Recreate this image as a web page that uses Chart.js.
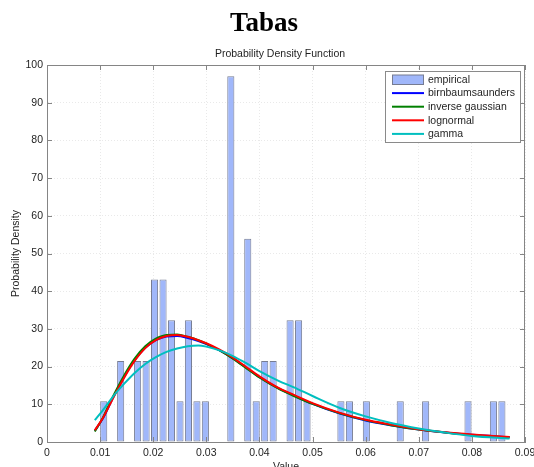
<!DOCTYPE html>
<html>
<head>
<meta charset="utf-8">
<script src="https://cdn.jsdelivr.net/npm/chart.js@4/dist/chart.umd.min.js"></script>
<style>
  html, body { margin: 0; padding: 0; background: #ffffff; }
  #wrap { width: 534px; height: 467px; }
</style>
</head>
<body>
<div id="wrap"><canvas id="pdf" width="534" height="467"></canvas></div>
<script>
// Histogram bins (centres) and their empirical density
const binCenters = [
  0.01068, 0.01228, 0.01387, 0.01547, 0.01706, 0.01866, 0.02025, 0.02185,
  0.02344, 0.02504, 0.02663, 0.02823, 0.02982, 0.03142, 0.03301, 0.03461,
  0.03620, 0.03780, 0.03939, 0.04099, 0.04258, 0.04418, 0.04577, 0.04737,
  0.04896, 0.05056, 0.05215, 0.05375, 0.05534, 0.05694, 0.05853, 0.06013,
  0.06172, 0.06332, 0.06491, 0.06651, 0.06810, 0.06970, 0.07129, 0.07289,
  0.07448, 0.07608, 0.07767, 0.07927, 0.08086, 0.08246, 0.08405, 0.08565
];
const empiricalDensity = [
  10.8, 0, 21.5, 0, 21.5, 21.5, 43.1, 43.1,
  32.3, 10.8, 32.3, 10.8, 10.8, 0, 0, 97.0,
  0, 53.9, 10.8, 21.5, 21.5, 0, 32.3, 32.3,
  10.8, 0, 0, 0, 10.8, 10.8, 0, 10.8,
  0, 0, 0, 10.8, 0, 0, 10.8, 0,
  0, 0, 0, 10.8, 0, 0, 10.8, 10.8
];

// Fitted density curves sampled along the value axis
const curveX = [
  0.009, 0.0105, 0.0125, 0.0145, 0.0165, 0.0185, 0.0205, 0.0225, 0.0245,
  0.0265, 0.0285, 0.030, 0.0325, 0.035, 0.0375, 0.040, 0.0435, 0.0465,
  0.050, 0.055, 0.060, 0.065, 0.070, 0.075, 0.080, 0.0871
];
const birnbaumSaunders = [
  3.0, 6.2, 11.9, 17.2, 21.7, 25.0, 27.0, 28.0, 28.1,
  27.6, 26.8, 26.0, 24.3, 22.2, 19.7, 17.2, 14.3, 12.3,
  10.1, 7.6, 5.7, 4.4, 3.3, 2.5, 1.9, 1.3
];
const inverseGaussian = [
  2.8, 6.4, 12.3, 17.6, 22.1, 25.4, 27.4, 28.4, 28.5,
  27.9, 27.0, 26.1, 24.3, 22.1, 19.6, 17.1, 14.2, 12.2,
  10.1, 7.7, 5.8, 4.4, 3.3, 2.5, 1.8, 1.2
];
const lognormal = [
  3.1, 6.3, 11.8, 17.0, 21.5, 24.9, 27.0, 28.1, 28.4,
  27.9, 27.0, 26.2, 24.5, 22.4, 19.9, 17.4, 14.4, 12.5,
  10.3, 7.8, 5.9, 4.6, 3.4, 2.6, 2.0, 1.3
];
const gammaFit = [
  5.8, 8.4, 12.2, 15.4, 18.3, 20.7, 22.5, 23.9, 24.8,
  25.4, 25.6, 25.3, 24.3, 22.8, 20.9, 18.8, 16.3, 14.5,
  12.2, 9.1, 6.8, 5.0, 3.6, 2.5, 1.6, 0.9
];

// Tick labels
const xTickLabels = ['0', '0.01', '0.02', '0.03', '0.04', '0.05', '0.06', '0.07', '0.08', '0.09'];
const yTickLabels = ['0', '10', '20', '30', '40', '50', '60', '70', '80', '90', '100'];

const SANS = '"Liberation Sans", Arial, sans-serif';
const TEXT = '#1e1e1e';
const AXIS = '#858585';
const GRID = 'rgba(0,0,0,0.085)';

const toPoints = (xs, ys) => xs.map((x, i) => ({ x: x, y: ys[i] }));

const curve = (label, values, color, order) => ({
  type: 'line',
  label: label,
  data: toPoints(curveX, values),
  borderColor: color,
  backgroundColor: color,
  borderWidth: 2,
  pointRadius: 0,
  cubicInterpolationMode: 'monotone',
  fill: false,
  order: order
});

// Frame, inward ticks, captions and the boxed legend
const framePlugin = {
  id: 'frame',
  afterDatasetsDraw(chart) {
    const { ctx, chartArea: a, scales } = chart;
    ctx.save();
    ctx.strokeStyle = AXIS;
    ctx.lineWidth = 1;
    ctx.beginPath();
    ctx.moveTo(a.left, a.top + 0.5); ctx.lineTo(a.right, a.top + 0.5);
    ctx.moveTo(a.right - 0.5, a.top); ctx.lineTo(a.right - 0.5, a.bottom);
    const tl = 5;
    scales.x.ticks.forEach(t => {
      const px = Math.round(scales.x.getPixelForValue(t.value)) + 0.5;
      ctx.moveTo(px, a.bottom); ctx.lineTo(px, a.bottom - tl);
      ctx.moveTo(px, a.top); ctx.lineTo(px, a.top + tl);
    });
    scales.y.ticks.forEach(t => {
      const py = Math.round(scales.y.getPixelForValue(t.value)) + 0.5;
      ctx.moveTo(a.left, py); ctx.lineTo(a.left + tl, py);
      ctx.moveTo(a.right, py); ctx.lineTo(a.right - tl, py);
    });
    ctx.stroke();
    ctx.restore();
  },
  afterDraw(chart) {
    const { ctx, chartArea: a } = chart;
    ctx.save();
    ctx.fillStyle = '#000';
    ctx.textAlign = 'center';
    ctx.textBaseline = 'alphabetic';
    ctx.font = 'bold 27px "Liberation Serif", "Times New Roman", serif';
    ctx.fillText('Tabas', 264, 31);
    ctx.fillStyle = TEXT;
    ctx.font = '10.5px ' + SANS;
    ctx.fillText('Probability Density Function', 280, 57);
    ctx.fillText('Value', (a.left + a.right) / 2, 469.5);
    ctx.save();
    ctx.translate(16, (a.top + a.bottom) / 2);
    ctx.rotate(-Math.PI / 2);
    ctx.textBaseline = 'middle';
    ctx.fillText('Probability Density', 0, 0);
    ctx.restore();

    // legend box
    const lx = 385, ly = 71, lw = 135, lh = 71;
    ctx.fillStyle = '#ffffff';
    ctx.fillRect(lx, ly, lw, lh);
    ctx.strokeStyle = '#8a8a8a';
    ctx.lineWidth = 1;
    ctx.strokeRect(lx + 0.5, ly + 0.5, lw, lh);
    ctx.font = '10.5px ' + SANS;
    ctx.textAlign = 'left';
    ctx.textBaseline = 'middle';
    const rowH = 13.6;
    chart.data.datasets.forEach((ds, i) => {
      const cy = ly + 8.5 + i * rowH;
      if (ds.type === 'line') {
        ctx.strokeStyle = ds.borderColor;
        ctx.lineWidth = 2;
        ctx.beginPath();
        ctx.moveTo(392, cy); ctx.lineTo(424, cy);
        ctx.stroke();
      } else {
        ctx.fillStyle = ds.backgroundColor;
        ctx.fillRect(392, cy - 4.5, 32, 9.5);
        ctx.strokeStyle = ds.borderColor;
        ctx.lineWidth = 1;
        ctx.strokeRect(392.5, cy - 4.5, 31, 9.5);
      }
      ctx.fillStyle = TEXT;
      ctx.fillText(ds.label, 428, cy + 0.5);
    });
    ctx.restore();
  }
};

new Chart(document.getElementById('pdf'), {
  type: 'bar',
  data: {
    datasets: [
      {
        type: 'bar',
        label: 'empirical',
        data: toPoints(binCenters, empiricalDensity),
        backgroundColor: 'rgb(160,183,250)',
        borderColor: 'rgb(118,124,146)',
        borderWidth: 1,
        borderSkipped: false,
        categoryPercentage: 0.84,
        barPercentage: 1.0,
        order: 10
      },
      curve('birnbaumsaunders', birnbaumSaunders, 'rgb(0,0,255)', 4),
      curve('inverse gaussian', inverseGaussian, 'rgb(0,128,0)', 3),
      curve('lognormal', lognormal, 'rgb(255,0,0)', 2),
      curve('gamma', gammaFit, 'rgb(0,191,191)', 1)
    ]
  },
  options: {
    responsive: false,
    animation: false,
    devicePixelRatio: 1,
    layout: { padding: { left: 0, right: 9, top: 65, bottom: 0 } },
    plugins: {
      legend: { display: false },
      title: { display: false },
      tooltip: { enabled: false }
    },
    scales: {
      x: {
        type: 'linear',
        min: 0,
        max: 0.09,
        offset: false,
        grid: { offset: false, color: GRID, drawTicks: false },
        border: { display: true, color: AXIS, dash: [1, 2] },
        ticks: {
          stepSize: 0.01,
          autoSkip: false,
          maxRotation: 0,
          padding: 5,
          color: TEXT,
          font: { family: SANS, size: 10.5 },
          callback: (v, i) => xTickLabels[i]
        },
        afterFit: s => { s.height = 25; s.paddingLeft = 0; s.paddingRight = 0; }
      },
      y: {
        min: 0,
        max: 100,
        grid: { color: GRID, drawTicks: false },
        border: { display: true, color: AXIS, dash: [1, 2] },
        ticks: {
          stepSize: 10,
          padding: 4,
          color: TEXT,
          font: { family: SANS, size: 10.5 },
          callback: (v, i) => yTickLabels[i]
        },
        afterFit: s => { s.width = 47; s.paddingTop = 0; s.paddingBottom = 0; }
      }
    }
  },
  plugins: [framePlugin]
});
</script>
</body>
</html>
